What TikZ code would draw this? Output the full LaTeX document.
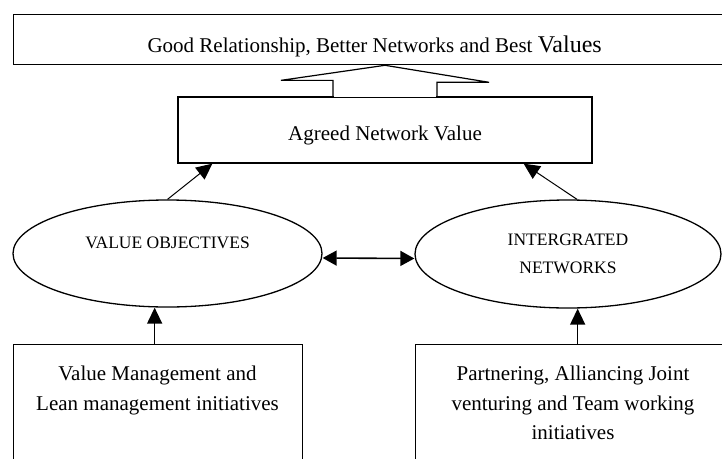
\documentclass[tikz,border=0pt]{standalone}
\usepackage{fontspec}
\setmainfont{Liberation Serif}
\usetikzlibrary{shapes.geometric,arrows.meta}

\begin{document}
\begin{tikzpicture}[x=1pt, y=-1pt,
		box/.style={draw, line width=1.3pt, inner sep=0pt, font=\fontsize{21}{29.5}\selectfont},
		oval/.style={draw, ellipse, line width=1.3pt, inner sep=0pt, align=center, font=\fontsize{17.5}{28}\selectfont},
		boxtext/.style={align=center, inner sep=0pt, anchor=north, font=\fontsize{21}{29.5}\selectfont},
		link/.style={line width=1pt, -{Triangle[length=16pt, width=15pt]}}]
		\clip (0,0) rectangle (722,458);
		
		% Draw the goal on top
		\node (goal) [box, anchor=north west, minimum width=722, minimum height=50, text height=38pt, text depth=12pt] at (13,14) {Good Relationship, Better Networks and Best {\fontsize{24}{24}\selectfont Values}};
		
		% Draw the agreed value box
		\node (agreed) [box, minimum width=414, minimum height=66, text height=43pt, text depth=23pt] at (385,130) {Agreed Network Value};
		
		% Draw the two ellipses
		\node (objectives) [oval, minimum width=309, minimum height=107, text height=10pt, text depth=20.4pt] at (167.5,253.5) {VALUE OBJECTIVES};
		\node (integrated) [oval, minimum width=306, minimum height=108] at (568,254) {INTERGRATED\\NETWORKS};
		
		% Draw the initiatives boxes (cut at the bottom)
		\node (vmbox) [box, anchor=north west, minimum width=289, minimum height=150] at (13,344) {};
		\node (vmtext) [boxtext] at (157.5,366) {Value Management and\\Lean management initiatives};
		\node (ptbox) [box, anchor=north west, minimum width=316, minimum height=150] at (415,344) {};
		\node (pttext) [boxtext] at (573,366) {Partnering, Alliancing Joint\\venturing and Team working\\initiatives};
		
		% Block arrow from agreed value up to the goal
		\coordinate (tip) at (goal.south -| agreed.north);
		\fill[white] ([xshift=-51.3pt, yshift=-1pt]agreed.north) rectangle ([xshift=51.3pt, yshift=16pt]agreed.north);
		\draw[line width=1.2pt, line join=miter] ([xshift=-52pt]agreed.north) -- ++(0,-16) -- ++(-52,0) -- (tip) -- ([xshift=104pt, yshift=-17pt]tip) -- ++(-52,0) -- ([xshift=52pt]agreed.north);
		
		% Connect the ellipses to the agreed value
		\draw[link] (objectives.north) -- ([xshift=35pt]agreed.south west);
		\draw[link] ([xshift=9pt]integrated.north) -- ([xshift=-69pt]agreed.south east);
		\draw[line width=1.6pt, {Triangle[length=14pt, width=15pt]}-{Triangle[length=14pt, width=15pt]}] ([yshift=-4.5pt]objectives.east) -- ([yshift=-4.5pt]integrated.west);
		
		% Connect the initiatives to the ellipses
		\draw[link, line width=1.4pt] ([xshift=-3.5pt]vmbox.north) -- ([xshift=-3.5pt]vmbox.north |- objectives.south);
		\draw[link, line width=1.4pt] ([xshift=4pt]ptbox.north) -- ([xshift=4pt]ptbox.north |- integrated.south);
\end{tikzpicture}
\end{document}
